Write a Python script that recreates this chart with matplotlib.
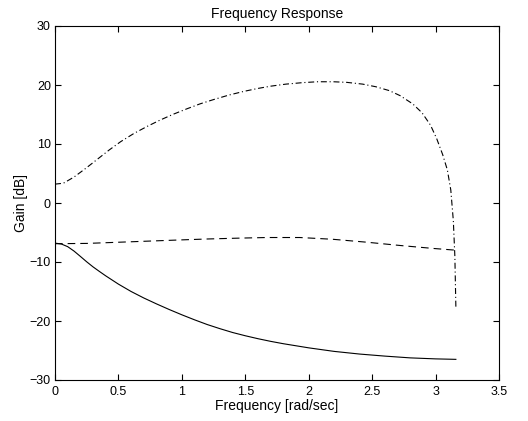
import matplotlib
matplotlib.use("Agg")
import matplotlib.pyplot as plt

plt.rcParams['font.family'] = ['Liberation Sans', 'DejaVu Sans']
plt.rcParams['lines.scale_dashes'] = False

# Solid curve (lowpass-like)
solid_x = [0.0, 0.05, 0.1, 0.15, 0.2, 0.25, 0.3, 0.35, 0.4, 0.45, 0.5, 0.6, 0.7,
           0.8, 0.9, 1.0, 1.1, 1.2, 1.3, 1.4, 1.5, 1.6, 1.7, 1.8, 1.9, 2.0,
           2.2, 2.4, 2.6, 2.8, 3.0, 3.16]
solid_y = [-6.8, -6.95, -7.4, -8.15, -9.05, -9.97, -10.83, -11.6, -12.35, -13.05,
           -13.75, -15.0, -16.1, -17.1, -18.05, -18.95, -19.8, -20.6, -21.3,
           -21.95, -22.5, -23.0, -23.45, -23.85, -24.2, -24.55, -25.15, -25.6,
           -25.95, -26.25, -26.42, -26.5]

# Dashed curve
dashed_x = [0.0, 0.25, 0.49, 0.75, 1.0, 1.2, 1.46, 1.67, 1.93, 2.19, 2.46,
            2.72, 2.98, 3.16]
dashed_y = [-6.9, -6.85, -6.66, -6.45, -6.25, -6.1, -5.95, -5.85, -5.85, -6.15,
            -6.65, -7.2, -7.7, -8.0]

# Dash-dot curve
dashdot_x = [0.0, 0.066, 0.15, 0.244, 0.342, 0.428, 0.518, 0.623, 0.728, 0.828,
             0.933, 1.038, 1.143, 1.253, 1.372, 1.485, 1.595, 1.70, 1.821,
             1.952, 2.068, 2.194, 2.299, 2.425, 2.53, 2.635, 2.72, 2.82, 2.893,
             2.96, 3.009, 3.056, 3.093, 3.12, 3.14, 3.152, 3.16]
dashdot_y = [3.2, 3.35, 4.4, 5.9, 7.55, 9.0, 10.4, 11.8, 13.0, 14.05,
             15.05, 15.95, 16.8, 17.55, 18.3, 18.9, 19.4, 19.8, 20.15,
             20.4, 20.55, 20.55, 20.45, 20.15, 19.7, 19.05, 18.2, 16.8, 15.3,
             13.2, 10.9, 8.2, 5.6, 2.2, -3.0, -9.0, -17.6]

xticks = [0, 0.5, 1, 1.5, 2, 2.5, 3, 3.5]
xticklabels = ['0', '0.5', '1', '1.5', '2', '2.5', '3', '3.5']
yticks = [-30, -20, -10, 0, 10, 20, 30]
yticklabels = ['\u221230', '\u221220', '\u221210', '0', '10', '20', '30']

fig = plt.figure(figsize=(5.28, 4.21), dpi=100)
ax = fig.add_axes([55/528, 1-380/421, 444/528, 354/421])

ax.plot(solid_x, solid_y, color='black', lw=0.8, linestyle='-')
ax.plot(dashed_x, dashed_y, color='black', lw=0.8, linestyle=(0, (5.5, 3.6)))
ax.plot(dashdot_x, dashdot_y, color='black', lw=0.8,
        linestyle=(0, (4.3, 2.0, 0.8, 2.0)))

ax.set_xlim(0, 3.5)
ax.set_ylim(-30, 30)
ax.set_xticks(xticks)
ax.set_xticklabels(xticklabels)
ax.set_yticks(yticks)
ax.set_yticklabels(yticklabels)
ax.tick_params(direction='in', top=True, right=True, length=4, width=0.8,
               labelsize=9)
ax.tick_params(axis='x', pad=4)
ax.tick_params(axis='y', pad=3)
for s in ax.spines.values():
    s.set_linewidth(0.8)

ax.set_title('Frequency Response', fontsize=10, pad=6)
ax.set_xlabel('Frequency [rad/sec]', fontsize=10, labelpad=1)
ax.set_ylabel('Gain [dB]', fontsize=10, labelpad=1)

fig.savefig('out.png', dpi=100)
